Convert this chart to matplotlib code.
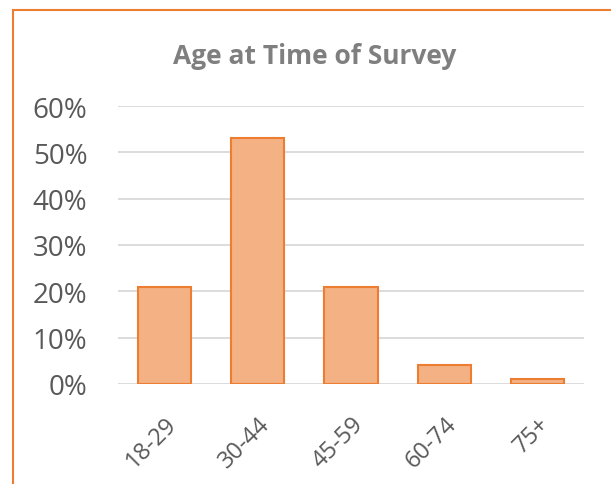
import matplotlib.pyplot as plt
from matplotlib.patches import Rectangle
from matplotlib.ticker import PercentFormatter

# data
ages = ['18-29', '30-44', '45-59', '60-74', '75+']
shares = [0.21, 0.53, 0.21, 0.04, 0.01]
yticks = [0, 0.1, 0.2, 0.3, 0.4, 0.5, 0.6]

plt.rcParams['font.family'] = ['Open Sans', 'DejaVu Sans']
W, H = 611, 485
fig = plt.figure(figsize=(W / 100, H / 100), dpi=100)
ax = fig.add_axes([118 / W, 1 - 385 / H, 466 / W, 278 / H])

ax.bar(range(len(ages)), shares, width=0.57, color='#f4b183',
       edgecolor='#ed7d31', linewidth=1.5, zorder=3)

ax.set_ylim(0, 0.6)
ax.set_xlim(-0.5, len(ages) - 0.5)
ax.set_yticks(yticks)
ax.yaxis.set_major_formatter(PercentFormatter(1.0, decimals=0))
ax.grid(axis='y', color='#d9d9d9', linewidth=1.3, zorder=0)
for s in ax.spines.values():
    s.set_visible(False)
ax.tick_params(length=0, labelsize=20, labelcolor='#595959')
ax.tick_params(axis='y', pad=22)
ax.set_xticks(range(len(ages)))
ax.set_xticklabels(ages, rotation=45, ha='right', rotation_mode='anchor', fontsize=17)
ax.tick_params(axis='x', pad=20)

fig.text(315 / W, 1 - 57 / H, 'Age at Time of Survey', ha='center', va='center',
         fontsize=19, fontweight='bold', color='#7f7f7f')

# chart frame (right and bottom edges fall outside the picture)
fig.patches.append(Rectangle((13 / W, -0.2), 1.2, 1.2 - 11 / H, transform=fig.transFigure,
                             fill=False, edgecolor='#ed7d31', linewidth=1.5))

fig.savefig('out.png', dpi=100)
